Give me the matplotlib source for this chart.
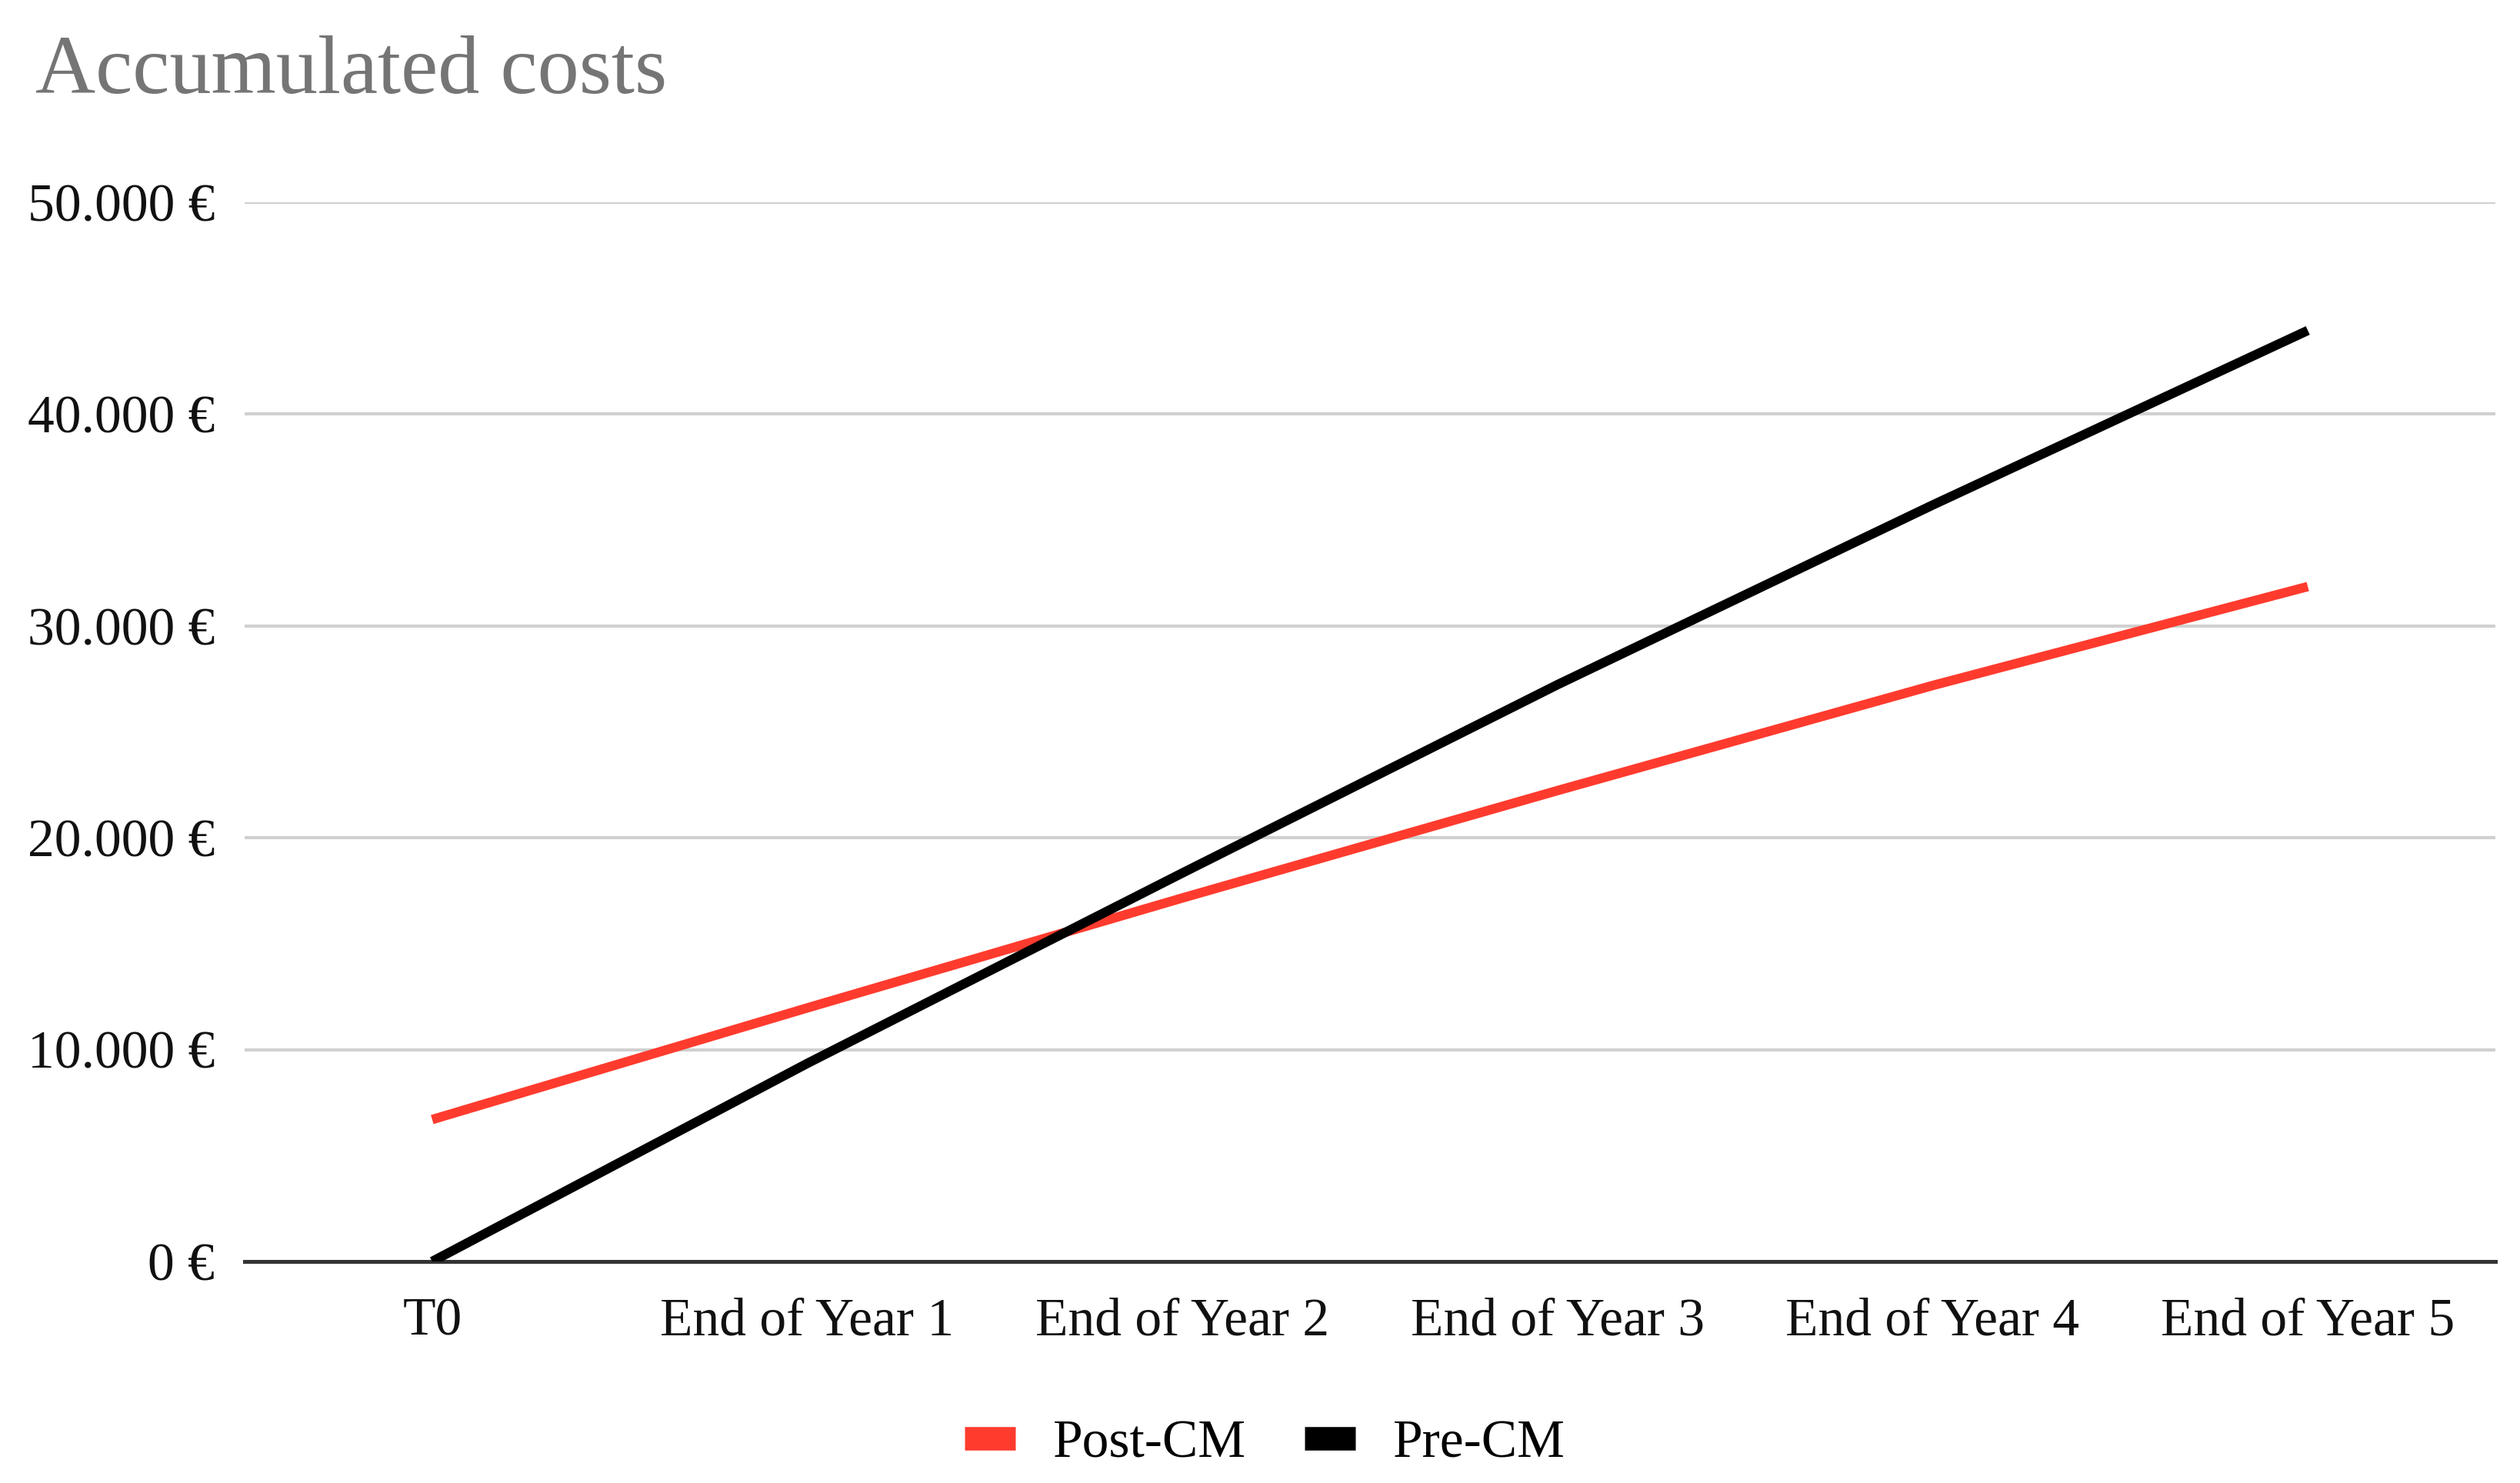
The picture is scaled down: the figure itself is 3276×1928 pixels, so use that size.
import matplotlib
matplotlib.use("Agg")
from matplotlib import pyplot as plt
from matplotlib.lines import Line2D
from matplotlib.ticker import FuncFormatter

# values (euros)
periods = ["T0", "End of Year 1", "End of Year 2", "End of Year 3", "End of Year 4", "End of Year 5"]
post_cm = [6700, 11970, 17160, 22230, 27190, 31860]
pre_cm = [0, 9350, 18340, 27230, 35710, 43950]
y_ticks = [0, 10000, 20000, 30000, 40000, 50000]

red = "#ff3b2e"
black = "#000000"

plt.rcParams["font.family"] = ["Liberation Serif", "DejaVu Serif"]

def euro(v, pos=None):
    return "{:,.0f} €".format(v).replace(",", ".")

fig = plt.figure(figsize=(16.38, 9.64), dpi=200)
ax = fig.add_axes([318/3276, 1 - 1640/1928, (3244-318)/3276, (1640-263)/1928])

x = list(range(len(periods)))
ax.plot(x, post_cm, color=red, lw=4.4, solid_capstyle="butt", zorder=3)
ax.plot(x, pre_cm, color=black, lw=4.4, solid_capstyle="butt", zorder=4)

ax.set_xlim(-0.5, len(periods) - 0.5)
ax.set_ylim(0, 50000)
ax.set_yticks(y_ticks)
ax.yaxis.set_major_formatter(FuncFormatter(euro))
ax.set_xticks(x)
ax.set_xticklabels(periods)

ax.grid(axis="y", color="#d0d0d0", lw=1.5)
ax.set_axisbelow(True)
for s in ["top", "right", "left"]:
    ax.spines[s].set_visible(False)
ax.spines["bottom"].set_color("#333333")
ax.spines["bottom"].set_linewidth(1.8)
ax.spines["bottom"].set_zorder(2)

ax.tick_params(axis="y", length=0, pad=14, labelsize=25, labelcolor="#111111")
ax.tick_params(axis="x", length=0, pad=17, labelsize=25, labelcolor="#111111")

fig.text(46/3276, 1 - 121/1928, "Accumulated costs", fontsize=39, color="#757575",
         ha="left", va="baseline")

handles = [Line2D([], [], color=red, lw=11, solid_capstyle="butt"),
           Line2D([], [], color=black, lw=11, solid_capstyle="butt")]
fig.legend(handles, ["Post-CM", "Pre-CM"], loc="center", bbox_to_anchor=(0.502, 0.026),
           ncol=2, frameon=False, fontsize=25, handlelength=0.95, handletextpad=0.7,
           columnspacing=1.1)

fig.savefig("out.png", dpi=200)
